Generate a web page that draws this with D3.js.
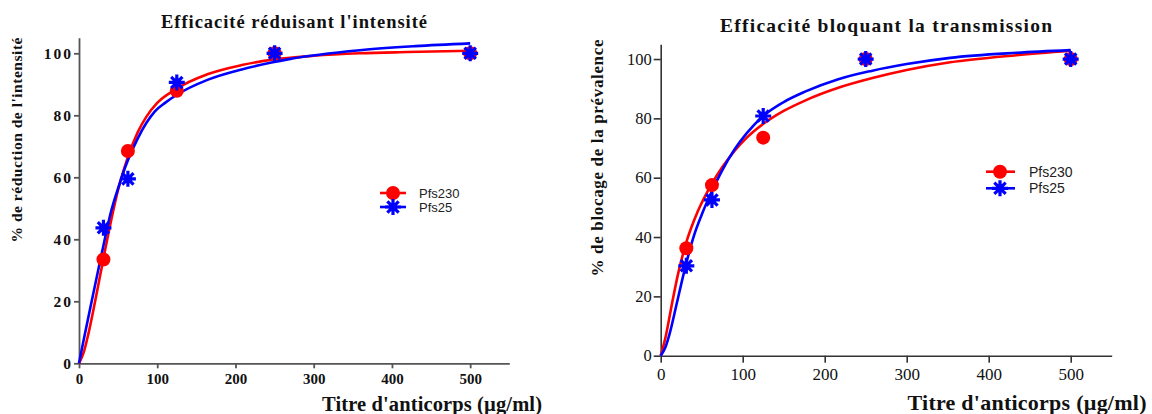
<!DOCTYPE html>
<html><head><meta charset="utf-8">
<script src="https://cdn.jsdelivr.net/npm/d3@7"></script>
<style>html,body{margin:0;padding:0;background:#fff;}svg{display:block;}</style>
</head><body>
<svg id="chart" width="1152" height="414"></svg>
<script>
// ---------- data ----------
const xTicks = [0, 100, 200, 300, 400, 500];
const yTicks = [0, 20, 40, 60, 80, 100];
const concentrations = [31.25, 62.5, 125, 250, 500];
const seriesNames = ["Pfs230", "Pfs25"];
const intensityPfs230 = [33.5, 68.5, 87.9, 100, 100];
const intensityPfs25  = [43.7, 59.5, 90.6, 100, 100];
const prevalencePfs230 = [36.2, 57.5, 73.5, 100, 100];
const prevalencePfs25  = [30.3, 52.5, 80.8, 100, 100];
// fitted curves as [x, y]
const intensityFit230 = [[0,0],[6,3.5],[12,9.5],[21,20.5],[31,33.5],[41,46],[50,56],[58,63],[62.5,66.5],[75,74.5],[86,79.5],[100,84],[123,88.3],[165,93.3],[208,96.2],[246,97.9],[300,99.2],[359,100],[420,100.4],[500,100.8]];
const intensityFit25  = [[0,0],[7,8.8],[16,19.8],[27,33],[31.25,38],[40,48],[52,58],[58,62.5],[62.5,65.5],[75,72.5],[86,77.5],[97,81.3],[110,84],[123,86.3],[165,91.5],[208,94.8],[246,97],[270,98.2],[359,101],[430,102.3],[500,103.2]];
const prevalenceFit230 = [[0,0],[6.5,7],[13.4,17],[20.7,27],[31,38],[45,48.5],[62.5,58],[75,63.5],[90,69],[105,73.5],[127,78.5],[150,82.5],[176,86],[216.6,90.3],[257,93.5],[300,96.3],[353,98.9],[434,101.3],[500,102.8]];
const prevalenceFit25  = [[0,0],[6,3],[11,7.5],[19.5,17.5],[28.8,28.5],[40,40],[50,47.5],[62.5,55.5],[75,62.5],[90,69.5],[105,75],[125,80.8],[150,85.5],[176,89],[216.6,93.2],[257,96],[300,98.3],[353,100.4],[434,102.1],[500,103]];

const RED = "#ff0000", BLUE = "#0000ff";
const svg = d3.select("#chart");

function starPath(r) {
  let p = "";
  for (let k = 0; k < 4; k++) {
    const a = k * Math.PI / 4;
    const dx = r * Math.cos(a), dy = r * Math.sin(a);
    p += `M${-dx},${-dy}L${dx},${dy}`;
  }
  return p;
}
function drawCircle(g, x, y) {
  g.append("circle").attr("cx", x).attr("cy", y).attr("r", 7).attr("fill", RED);
}
function drawStar(g, x, y) {
  const s = g.append("g").attr("transform", `translate(${x},${y})`);
  s.append("path").attr("d", starPath(8)).attr("stroke", BLUE).attr("stroke-width", 3.2).attr("fill", "none");
  s.append("circle").attr("r", 4.2).attr("fill", BLUE);
}

function panel(cfg) {
  const x = d3.scaleLinear().domain([0, 550]).range([cfg.x0, cfg.x1]);
  const y = d3.scaleLinear().domain([0, 105]).range([cfg.y0, cfg.yTop]);
  const g = svg.append("g");

  const xa = g.append("g").attr("transform", `translate(0,${cfg.y0})`)
    .call(d3.axisBottom(x).tickValues(xTicks).tickSize(cfg.tick).tickPadding(cfg.xPad).tickSizeOuter(0));
  const ya = g.append("g").attr("transform", `translate(${cfg.x0},0)`)
    .call(d3.axisLeft(y).tickValues(yTicks).tickSize(cfg.tick).tickPadding(cfg.yPad).tickSizeOuter(0));
  [xa, ya].forEach(a => {
    a.select(".domain").attr("stroke", cfg.axisColor).attr("stroke-width", cfg.axisW);
    a.selectAll(".tick line").attr("stroke", cfg.axisColor).attr("stroke-width", cfg.axisW);
    a.selectAll(".tick text").attr("fill", "#111")
      .attr("font-family", "'Liberation Serif', 'Times New Roman', serif")
      .attr("font-weight", cfg.tickWeight);
  });
  xa.selectAll(".tick text").attr("font-size", cfg.xTickSize);
  ya.selectAll(".tick text").attr("font-size", cfg.yTickSize).attr("letter-spacing", cfg.yTickSpacing);

  const line = d3.line().x(d => x(d[0])).y(d => y(d[1])).curve(d3.curveMonotoneX);
  g.append("path").datum(cfg.fitA).attr("d", line).attr("fill", "none").attr("stroke", RED).attr("stroke-width", 2.6);
  g.append("path").datum(cfg.fitB).attr("d", line).attr("fill", "none").attr("stroke", BLUE).attr("stroke-width", 2.6);

  concentrations.forEach((c, i) => drawCircle(g, x(c), y(cfg.ptsA[i])));
  concentrations.forEach((c, i) => drawStar(g, x(c), y(cfg.ptsB[i])));

  const serif = "'Liberation Serif', 'Times New Roman', serif";
  g.append("text").attr("x", cfg.title.x).attr("y", cfg.title.y).attr("text-anchor", "middle")
    .attr("font-family", serif).attr("font-weight", "bold").attr("font-size", cfg.title.size)
    .attr("textLength", cfg.title.len).attr("lengthAdjust", "spacing").attr("fill", "#111").text(cfg.title.text);
  g.append("text").attr("x", cfg.xTitle.x).attr("y", cfg.xTitle.y).attr("text-anchor", "middle")
    .attr("font-family", serif).attr("font-weight", "bold").attr("font-size", cfg.xTitle.size)
    .attr("textLength", cfg.xTitle.len).attr("lengthAdjust", "spacing").attr("fill", "#111").text(cfg.xTitle.text);
  g.append("text").attr("transform", `translate(${cfg.yTitle.x},${cfg.yTitle.y}) rotate(-90)`).attr("text-anchor", "middle")
    .attr("font-family", serif).attr("font-weight", "bold").attr("font-size", cfg.yTitle.size)
    .attr("textLength", cfg.yTitle.len).attr("lengthAdjust", "spacing").attr("fill", "#111").text(cfg.yTitle.text);

  const L = cfg.legend;
  seriesNames.forEach((name, i) => {
    const ly = L.y[i];
    const col = i === 0 ? RED : BLUE;
    g.append("line").attr("x1", L.x1).attr("x2", L.x2).attr("y1", ly).attr("y2", ly).attr("stroke", col).attr("stroke-width", 2.6);
    if (i === 0) drawCircle(g, L.m, ly); else drawStar(g, L.m, ly);
    g.append("text").attr("x", L.tx).attr("y", ly + L.size * 0.36).attr("font-family", "'Liberation Sans', Arial, sans-serif")
      .attr("font-size", L.size).attr("fill", "#222").text(name);
  });
}

panel({
  x0: 79, x1: 509.3, y0: 363.3, yTop: 37.8, tick: 5, xPad: 5, yPad: 1,
  axisColor: "#555", axisW: 1.8, tickWeight: "bold", xTickSize: 15, yTickSize: 15.5, yTickSpacing: 2,
  fitA: intensityFit230, fitB: intensityFit25, ptsA: intensityPfs230, ptsB: intensityPfs25,
  title: {text: "Efficacité réduisant l'intensité", x: 294, y: 28, size: 18.5, len: 266},
  xTitle: {text: "Titre d'anticorps (µg/ml)", x: 432, y: 411, size: 20.5, len: 220},
  yTitle: {text: "% de réduction de l'intensité", x: 22, y: 140, size: 15.5, len: 205},
  legend: {x1: 380, x2: 406, m: 393, tx: 419, y: [193, 207], size: 13}
});
panel({
  x0: 660.7, x1: 1111.7, y0: 355.7, yTop: 44.2, tick: 7, xPad: 5, yPad: 2,
  axisColor: "#333", axisW: 1.6, tickWeight: "normal", xTickSize: 17, yTickSize: 16.5, yTickSpacing: 0,
  fitA: prevalenceFit230, fitB: prevalenceFit25, ptsA: prevalencePfs230, ptsB: prevalencePfs25,
  title: {text: "Efficacité bloquant la transmission", x: 886, y: 32, size: 19.5, len: 332},
  xTitle: {text: "Titre d'anticorps (µg/ml)", x: 1027, y: 410, size: 22, len: 239},
  yTitle: {text: "% de blocage de la prévalence", x: 603, y: 158, size: 17, len: 237},
  legend: {x1: 986, x2: 1015, m: 1000, tx: 1029, y: [171.7, 188.3], size: 14}
});
</script>
</body></html>
